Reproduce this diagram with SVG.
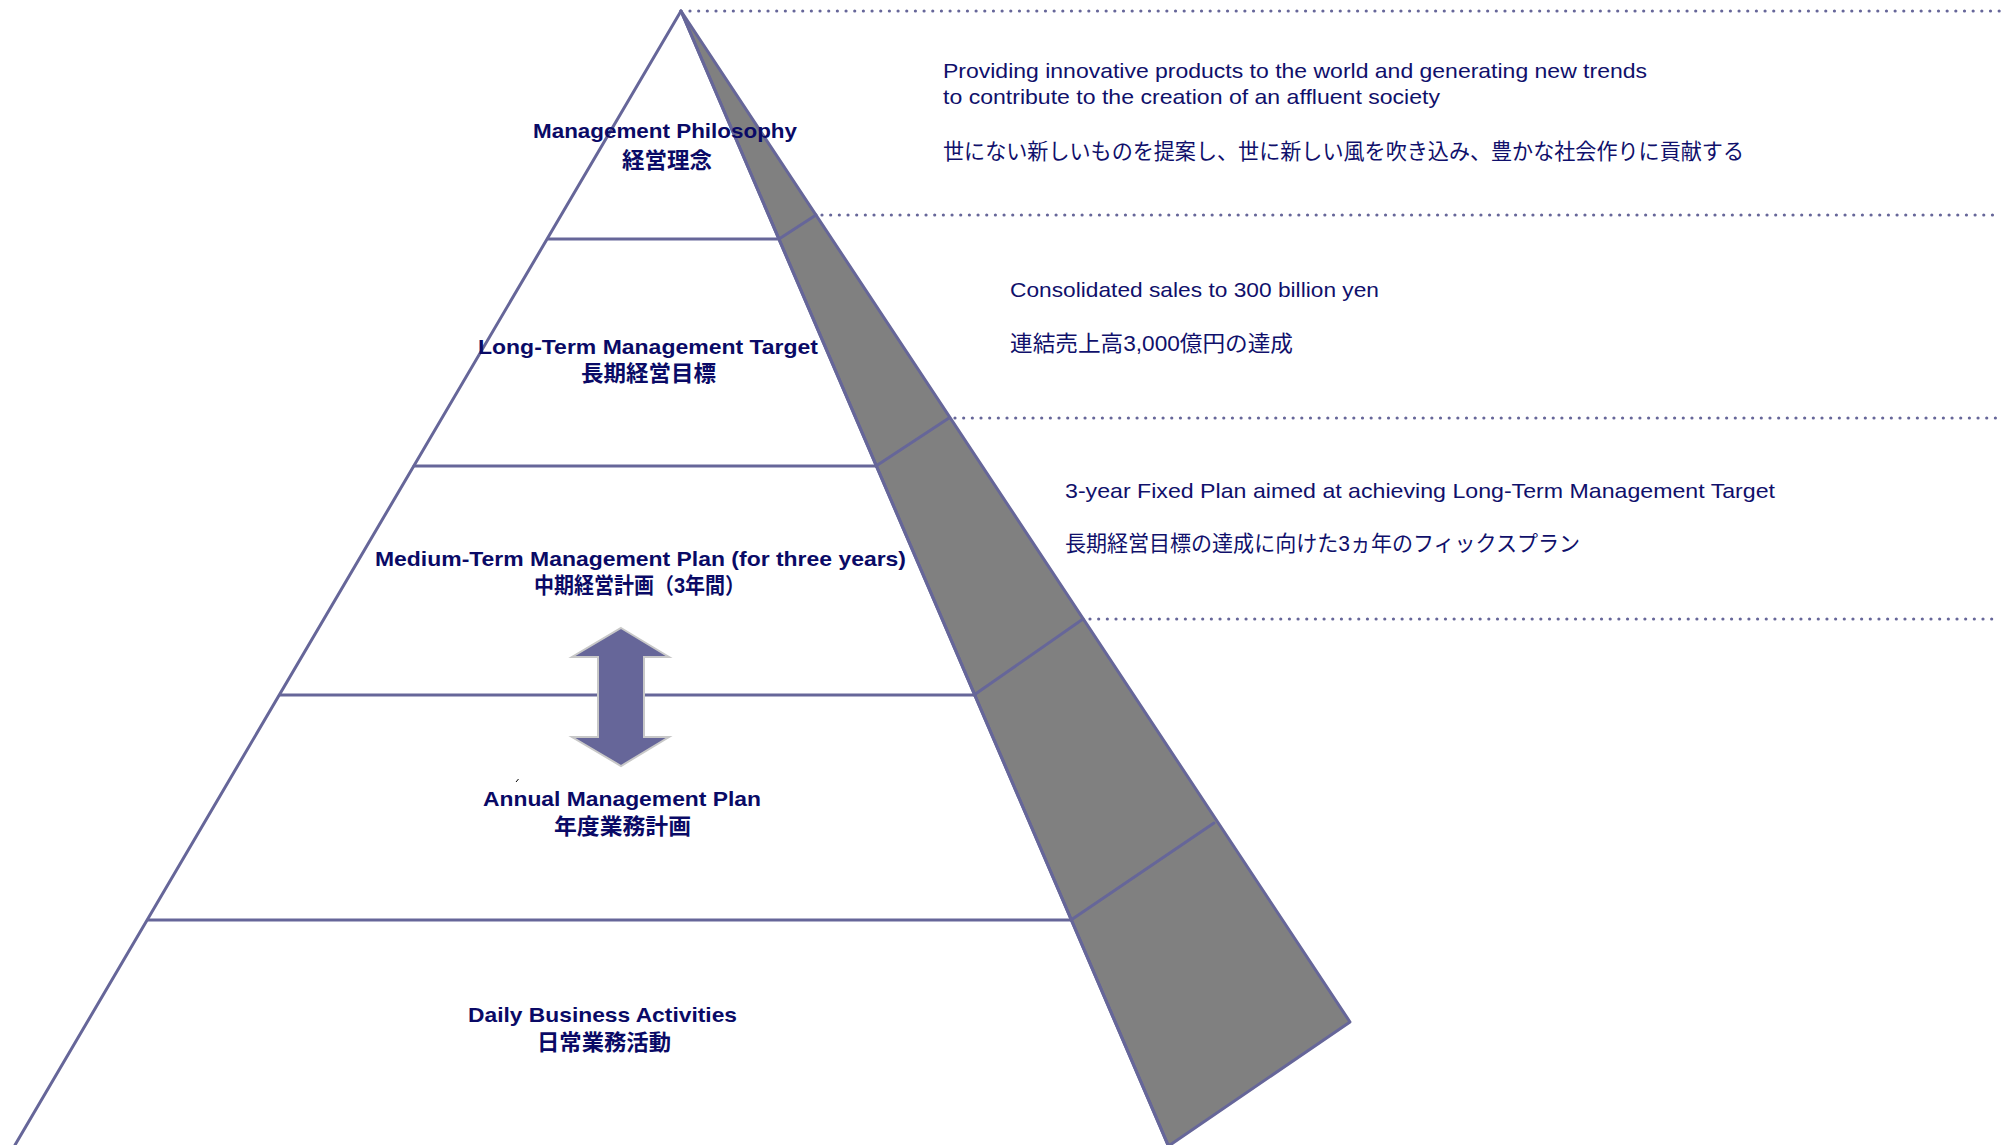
<svg xmlns="http://www.w3.org/2000/svg" width="2007" height="1145" viewBox="0 0 2007 1145">
<style>
.edge{stroke:#666699;stroke-width:3;fill:none;stroke-linecap:round}
.dot{stroke:#666699;stroke-width:3.2;fill:none;stroke-linecap:round;stroke-dasharray:0 8.67}
.lbl{font-family:"Liberation Sans","Noto Sans CJK JP",sans-serif;font-weight:bold;fill:#0a0a66}
.en{font-size:21px}
.jp{font-size:22px}
.desc{font-family:"Liberation Sans","Noto Sans CJK JP",sans-serif;fill:#10106b}
.den{font-size:21px}
.djp{font-size:21.5px}
</style>
<rect width="2007" height="1145" fill="#ffffff"/>
<g id="shadow">
<polygon points="681,11 1350,1022 1170,1145 1168,1145" fill="#808080" stroke="#666699" stroke-width="3" stroke-linejoin="round"/>
</g>
<g id="connectors">
<line class="edge" x1="681" y1="11" x2="15" y2="1145"/>
<line class="edge" x1="681" y1="11" x2="1168" y2="1145"/>
<line class="edge" x1="548" y1="239" x2="779" y2="239"/>
<line class="edge" x1="414" y1="466" x2="876" y2="466"/>
<line class="edge" x1="280" y1="695" x2="974" y2="695"/>
<line class="edge" x1="148" y1="920" x2="1071" y2="920"/>
<line class="edge" x1="779" y1="239" x2="816" y2="215"/>
<line class="edge" x1="876" y1="466" x2="949" y2="418"/>
<line class="edge" x1="974" y1="695" x2="1083" y2="619"/>
<line class="edge" x1="1071" y1="920" x2="1214" y2="823"/>
<line class="dot" x1="690" y1="11" x2="2000" y2="11"/>
<line class="dot" x1="822" y1="215" x2="2000" y2="215"/>
<line class="dot" x1="955" y1="418" x2="2000" y2="418"/>
<line class="dot" x1="1090" y1="619" x2="2000" y2="619"/>
<polygon id="arrow" points="621,628 669,657 644,657 644,737 669,737 621,766 572,737 598,737 598,657 572,657" fill="#666699" stroke="#c8c8c8" stroke-width="2" stroke-linejoin="miter"/>
<line x1="516" y1="782" x2="518.5" y2="779" stroke="#000000" stroke-width="1"/>
</g>
<g id="philosophy">
<text class="lbl en" x="533" y="138" textLength="264" lengthAdjust="spacingAndGlyphs">Management Philosophy</text>
<text class="lbl jp" x="622" y="168" textLength="90" lengthAdjust="spacingAndGlyphs">経営理念</text>
</g>
<g id="long-term">
<text class="lbl en" x="478" y="354" textLength="340" lengthAdjust="spacingAndGlyphs">Long-Term Management Target</text>
<text class="lbl jp" x="581" y="381" textLength="135" lengthAdjust="spacingAndGlyphs">長期経営目標</text>
</g>
<g id="medium-term">
<text class="lbl en" x="375" y="566" textLength="531" lengthAdjust="spacingAndGlyphs">Medium-Term Management Plan (for three years)</text>
<text class="lbl jp" x="534" y="593" textLength="211" lengthAdjust="spacingAndGlyphs">中期経営計画（3年間）</text>
</g>
<g id="annual">
<text class="lbl en" x="483" y="806" textLength="278" lengthAdjust="spacingAndGlyphs">Annual Management Plan</text>
<text class="lbl jp" x="554" y="834" textLength="137" lengthAdjust="spacingAndGlyphs">年度業務計画</text>
</g>
<g id="daily">
<text class="lbl en" x="468" y="1022" textLength="269" lengthAdjust="spacingAndGlyphs">Daily Business Activities</text>
<text class="lbl jp" x="537" y="1050" textLength="134" lengthAdjust="spacingAndGlyphs">日常業務活動</text>
</g>
<g id="desc-philosophy">
<text class="desc den" x="943" y="78" textLength="704" lengthAdjust="spacingAndGlyphs">Providing innovative products to the world and generating new trends</text>
<text class="desc den" x="943" y="104" textLength="497" lengthAdjust="spacingAndGlyphs">to contribute to the creation of an affluent society</text>
<text class="desc djp" x="943" y="159" textLength="801" lengthAdjust="spacingAndGlyphs">世にない新しいものを提案し、世に新しい風を吹き込み、豊かな社会作りに貢献する</text>
</g>
<g id="desc-long-term">
<text class="desc den" x="1010" y="297" textLength="369" lengthAdjust="spacingAndGlyphs">Consolidated sales to 300 billion yen</text>
<text class="desc djp" x="1010" y="351" textLength="283" lengthAdjust="spacingAndGlyphs">連結売上高3,000億円の達成</text>
</g>
<g id="desc-medium-term">
<text class="desc den" x="1065" y="498" textLength="710" lengthAdjust="spacingAndGlyphs">3-year Fixed Plan aimed at achieving Long-Term Management Target</text>
<text class="desc djp" x="1065" y="551" textLength="515" lengthAdjust="spacingAndGlyphs">長期経営目標の達成に向けた3ヵ年のフィックスプラン</text>
</g>
</svg>
